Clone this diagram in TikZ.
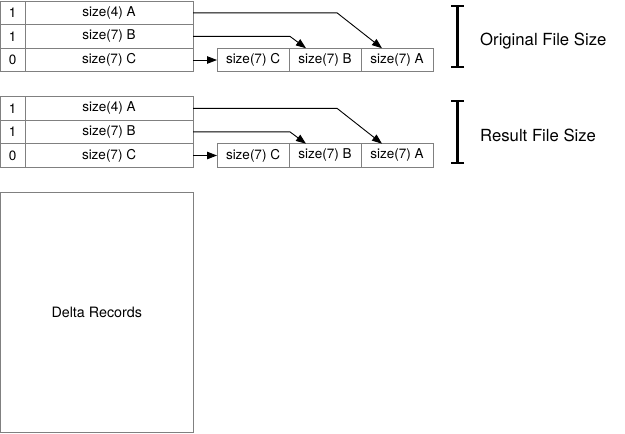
\documentclass[tikz,border=0pt]{standalone}
\usepackage{fontspec}
\setmainfont{TeX Gyre Heros}
\usetikzlibrary{arrows.meta}

\begin{document}
\begin{tikzpicture}
[x=1pt, y=-1pt, >={Triangle[length=10pt,width=7.5pt]},
	cell/.style={draw=black!50, line width=0.9pt, inner sep=0pt, outer sep=0pt,
		minimum height=23.6pt, font=\fontsize{13.5}{16}\selectfont},
	flag/.style={cell, minimum width=24.5pt},
	sz/.style={cell, minimum width=168pt},
	blk/.style={cell, minimum width=72pt},
	link/.style={->, line width=0.9pt},
	sizebar/.style={{Bar[width=13pt]}-{Bar[width=13pt]}, line width=2.4pt},
	lbl/.style={anchor=west, inner sep=0pt, font=\fontsize{16.7}{20}\selectfont}]
\useasboundingbox (0,0) rectangle (625,434);

% original
\node (fa) at (12.75,12.8)[flag] {1};
\node (sa) at (109,12.8)[sz] {size(4) A};
\node (fb) at (12.75,36.4)[flag] {1};
\node (sb) at (109,36.4)[sz] {size(7) B};
\node (fc) at (12.75,60)[flag] {0};
\node (sc) at (109,60)[sz] {size(7) C};

\node (rc) at (253,60)[blk] {size(7) C};
\node (rb) at (325,60)[blk] {size(7) B};
\node (ra) at (397,60)[blk] {size(7) A};

\draw[link] (sa.east) -- ([xshift=144pt]sa.east) -- ([xshift=21pt]ra.north west);
\draw[link] (sb.east) -- ([xshift=97pt]sb.east) -- ([xshift=17pt]rb.north west);
\draw[link] (sc.east) -- (rc.west);

\coordinate (ot) at (457.5,5);
\coordinate (ob) at (457.5,68);
\draw[sizebar] (ot) -- (ob);
\node (orig) at (480,41)[lbl] {Original File Size};

% result
\node (fa2) at (12.75,108.3)[flag] {1};
\node (sa2) at (109,108.3)[sz] {size(4) A};
\node (fb2) at (12.75,131.9)[flag] {1};
\node (sb2) at (109,131.9)[sz] {size(7) B};
\node (fc2) at (12.75,155.5)[flag] {0};
\node (sc2) at (109,155.5)[sz] {size(7) C};

\node (rc2) at (253,155.5)[blk] {size(7) C};
\node (rb2) at (325,155.5)[blk] {size(7) B};
\node (ra2) at (397,155.5)[blk] {size(7) A};

\draw[link] (sa2.east) -- ([xshift=144pt]sa2.east) -- ([xshift=21pt]ra2.north west);
\draw[link] (sb2.east) -- ([xshift=97pt]sb2.east) -- ([xshift=17pt]rb2.north west);
\draw[link] (sc2.east) -- (rc2.west);

\coordinate (rt) at (457.5,100);
\coordinate (rbot) at (457.5,164);
\draw[sizebar] (rt) -- (rbot);
\node (res) at (480,135)[lbl] {Result File Size};

% delta
\node (delta) at (96.75,312)[cell, minimum width=192.5pt, minimum height=240pt,
	font=\fontsize{14.3}{17}\selectfont] {Delta Records};

\end{tikzpicture}
\end{document}
